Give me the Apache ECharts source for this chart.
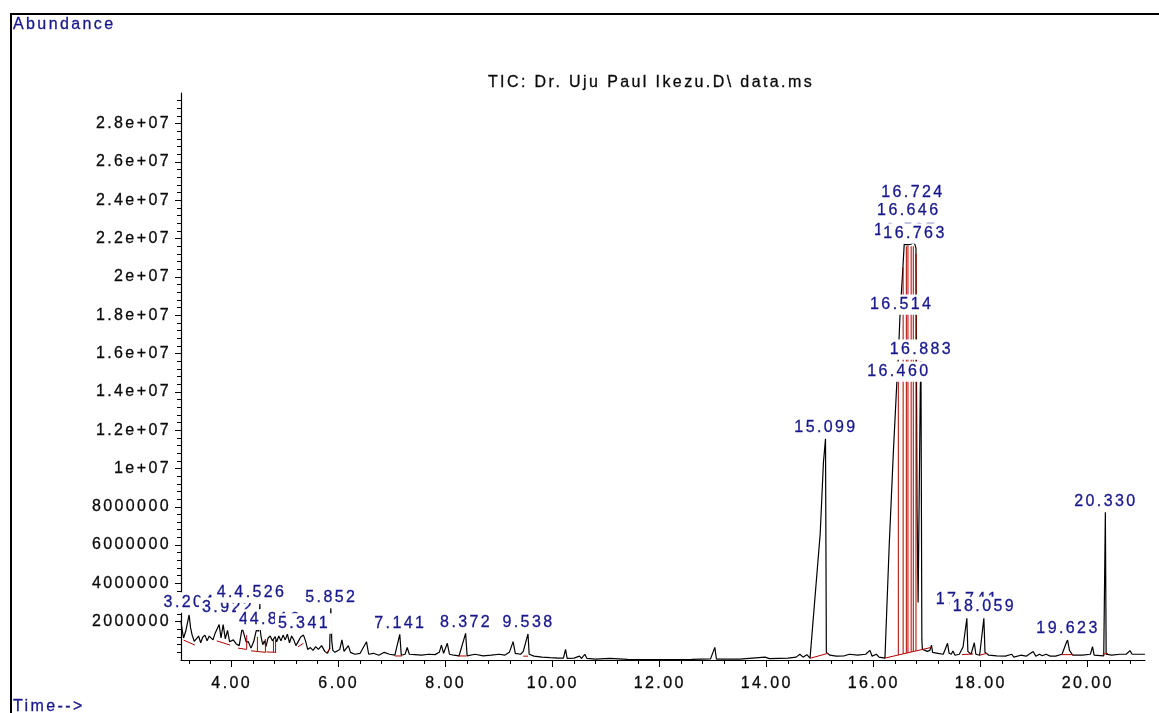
<!DOCTYPE html>
<html>
<head>
<meta charset="utf-8">
<script src="https://cdn.jsdelivr.net/npm/echarts@6/dist/echarts.min.js"></script>
<style>
  html, body { margin: 0; padding: 0; background: #fff; }
  #chart { width: 1159px; height: 713px; }
</style>
</head>
<body>
<div id="chart"></div>
<script>
// Total ion chromatogram: retention time (min) vs abundance.
const chromatogram = [
  [3.05, 2.05e6], [3.08, 1.45e6], [3.10, 1.15e6], [3.14, 1.5e6], [3.204, 2.35e6], [3.23, 1.7e6],
  [3.26, 1.3e6], [3.30, 0.98e6], [3.34, 1.1e6], [3.38, 1.25e6], [3.42, 0.9e6], [3.46, 1.2e6],
  [3.50, 1.3e6], [3.54, 1.0e6], [3.58, 1.25e6], [3.61, 1.22e6], [3.65, 1.05e6], [3.69, 1.4e6],
  [3.72, 1.3e6], [3.765, 1.85e6], [3.80, 1.15e6], [3.84, 1.85e6], [3.88, 1.1e6], [3.922, 1.55e6],
  [3.96, 0.95e6], [4.03, 1.05e6], [4.08, 0.85e6], [4.14, 0.75e6], [4.196, 1.68e6], [4.23, 1.65e6],
  [4.27, 0.95e6], [4.31, 0.96e6], [4.36, 0.62e6], [4.41, 0.95e6], [4.46, 1.55e6], [4.50, 1.5e6],
  [4.515, 1.55e6], [4.526, 2.92e6], [4.535, 1.5e6], [4.55, 1.2e6], [4.58, 0.8e6], [4.612, 1.0e6],
  [4.64, 0.7e6], [4.68, 1.15e6], [4.72, 1.25e6], [4.76, 1.0e6], [4.79, 1.1e6], [4.813, 1.22e6],
  [4.84, 0.95e6], [4.88, 1.25e6], [4.92, 1.0e6], [4.96, 1.3e6], [5.00, 1.05e6], [5.04, 1.35e6],
  [5.08, 0.9e6], [5.12, 1.25e6], [5.16, 1.05e6], [5.20, 0.75e6], [5.25, 1.0e6], [5.29, 1.2e6],
  [5.341, 1.3e6], [5.38, 1.0e6], [5.42, 0.55e6], [5.47, 0.65e6], [5.52, 0.5e6], [5.57, 0.7e6],
  [5.62, 0.55e6], [5.68, 0.75e6], [5.74, 0.45e6], [5.79, 0.35e6], [5.83, 0.6e6], [5.852, 2.7e6],
  [5.87, 1.0e6], [5.89, 0.5e6], [5.93, 0.4e6], [6.02, 0.55e6], [6.06, 1.05e6], [6.10, 0.45e6],
  [6.18, 0.75e6], [6.22, 0.4e6], [6.30, 0.3e6], [6.40, 0.35e6], [6.52, 0.95e6], [6.56, 0.3e6],
  [6.65, 0.35e6], [6.75, 0.25e6], [6.85, 0.4e6], [6.95, 0.3e6], [7.05, 0.25e6], [7.141, 1.34e6],
  [7.17, 0.25e6], [7.24, 0.3e6], [7.28, 0.65e6], [7.32, 0.3e6], [7.42, 0.28e6], [7.55, 0.25e6],
  [7.68, 0.3e6], [7.80, 0.28e6], [7.88, 0.4e6], [7.92, 0.78e6], [7.96, 0.35e6], [8.03, 0.87e6],
  [8.07, 0.3e6], [8.15, 0.25e6], [8.25, 0.22e6], [8.372, 1.39e6], [8.40, 0.22e6], [8.55, 0.3e6],
  [8.70, 0.22e6], [8.85, 0.25e6], [9.00, 0.3e6], [9.10, 0.25e6], [9.19, 0.4e6], [9.26, 0.96e6],
  [9.30, 0.35e6], [9.40, 0.3e6], [9.45, 0.45e6], [9.538, 1.36e6], [9.56, 0.3e6], [9.65, 0.2e6],
  [9.80, 0.15e6], [9.95, 0.12e6], [10.10, 0.1e6], [10.20, 0.1e6], [10.24, 0.56e6], [10.27, 0.08e6],
  [10.40, 0.1e6], [10.50, 0.2e6], [10.54, 0.08e6], [10.60, 0.3e6], [10.64, 0.08e6], [10.80, 0.05e6],
  [11.07, 0.08e6], [11.40, 0.03e6], [12.00, 0.02e6], [12.60, 0.03e6], [12.95, 0.06e6], [13.03, 0.66e6],
  [13.06, 0.05e6], [13.50, 0.05e6], [13.97, 0.15e6], [14.05, 0.07e6], [14.40, 0.1e6], [14.55, 0.15e6],
  [14.62, 0.3e6], [14.68, 0.15e6], [14.75, 0.28e6], [14.81, 0.1e6], [15.00, 6.6e6], [15.06, 10.3e6],
  [15.099, 11.55e6], [15.115, 0.4e6], [15.15, 0.45e6], [15.18, 0.25e6], [15.30, 0.2e6], [15.45, 0.22e6],
  [15.55, 0.3e6], [15.70, 0.25e6], [15.85, 0.3e6], [15.93, 0.5e6], [15.97, 0.2e6], [16.05, 0.3e6],
  [16.10, 0.15e6], [16.21, 0.1e6], [16.29, 6.0e6], [16.37, 11.0e6], [16.44, 14.9e6], [16.460, 15.8e6],
  [16.49, 17.9e6], [16.514, 19.0e6], [16.55, 20.7e6], [16.57, 21.7e6], [16.587, 21.72e6], [16.62, 21.68e6],
  [16.646, 21.75e6], [16.68, 21.7e6], [16.724, 21.75e6], [16.745, 21.7e6], [16.763, 21.75e6], [16.79, 21.5e6],
  [16.81, 8.0e6], [16.83, 3.0e6], [16.87, 14.0e6], [16.883, 15.6e6], [16.90, 1.05e6], [16.91, 0.55e6],
  [16.96, 0.5e6], [17.00, 0.45e6], [17.05, 0.5e6], [17.08, 0.78e6], [17.10, 0.4e6], [17.20, 0.35e6],
  [17.30, 0.3e6], [17.38, 0.87e6], [17.41, 0.35e6], [17.45, 0.3e6], [17.48, 0.47e6], [17.52, 0.25e6],
  [17.60, 0.3e6], [17.67, 0.68e6], [17.741, 2.18e6], [17.76, 0.45e6], [17.82, 0.3e6], [17.88, 0.9e6],
  [17.91, 0.3e6], [17.98, 0.25e6], [18.059, 2.18e6], [18.08, 0.4e6], [18.15, 0.25e6], [18.30, 0.22e6],
  [18.46, 0.2e6], [18.58, 0.3e6], [18.62, 0.15e6], [18.75, 0.25e6], [18.85, 0.2e6], [18.98, 0.44e6],
  [19.03, 0.2e6], [19.10, 0.3e6], [19.15, 0.22e6], [19.22, 0.3e6], [19.30, 0.2e6], [19.40, 0.2e6],
  [19.52, 0.3e6], [19.60, 0.9e6], [19.623, 1.04e6], [19.66, 0.5e6], [19.72, 0.25e6], [19.90, 0.25e6],
  [20.05, 0.3e6], [20.09, 0.7e6], [20.12, 0.25e6], [20.30, 0.22e6], [20.330, 7.71e6], [20.345, 0.3e6],
  [20.45, 0.25e6], [20.60, 0.3e6], [20.72, 0.3e6], [20.79, 0.49e6], [20.83, 0.3e6], [21.07, 0.3e6]
];

// Integrated peaks: retention time labels and the level each label sits on.
const peakTimes = [3.204, 3.922, 4.196, 4.526, 4.612, 4.813, 5.341, 5.852, 7.141, 8.372, 9.538,
  15.099, 16.460, 16.514, 16.587, 16.646, 16.724, 16.763, 16.883, 17.741, 18.059, 19.623, 20.330];
const labelLevels = [2.42e6, 2.15e6, 2.94e6, 2.94e6, 1.53e6, 1.53e6, 1.32e6, 2.68e6, 1.34e6, 1.39e6, 1.36e6,
  11.55e6, 14.47e6, 17.97e6, 21.83e6, 22.88e6, 23.82e6, 21.68e6, 15.62e6, 2.55e6, 2.18e6, 1.04e6, 7.71e6];

// Integration baselines: [startTime, startLevel, endTime, endLevel]
const intBaselines = [
  [3.10, 1.04e6, 3.31, 0.78e6], [3.72, 1.0e6, 3.97, 0.78e6], [4.12, 0.62e6, 4.28, 0.55e6],
  [4.36, 0.48e6, 4.63, 0.40e6], [4.65, 0.42e6, 4.83, 0.40e6], [5.24, 0.69e6, 5.34, 0.87e6],
  [5.77, 0.35e6, 5.84, 0.6e6], [7.05, 0.21e6, 7.18, 0.21e6], [8.23, 0.21e6, 8.39, 0.21e6],
  [9.45, 0.2e6, 9.54, 0.2e6], [14.81, 0.09e6, 15.15, 0.35e6], [16.21, 0.1e6, 17.08, 0.66e6],
  [17.65, 0.28e6, 17.86, 0.32e6], [17.98, 0.25e6, 18.12, 0.35e6], [19.51, 0.28e6, 19.73, 0.28e6],
  [20.28, 0.3e6, 20.38, 0.35e6]
];

// Peak boundary drop lines: [time, low, high]
const dropLines = [
  [4.28, 0.57e6, 1.3e6], [4.48, 0.45e6, 1.2e6], [4.63, 0.40e6, 1.1e6], [4.78, 0.42e6, 1.05e6],
  [4.82, 0.40e6, 1.05e6],
  [16.46, 0.26e6, 15.6e6], [16.55, 0.32e6, 20.5e6], [16.61, 0.36e6, 21.6e6], [16.64, 0.38e6, 21.65e6],
  [16.70, 0.42e6, 21.6e6], [16.74, 0.44e6, 21.6e6], [16.79, 0.47e6, 21.2e6]
];

// Axis ticks and labels
const xLabelValues = [4, 6, 8, 10, 12, 14, 16, 18, 20];
const yLabelValues = [2e6, 4e6, 6e6, 8e6, 1e7, 1.2e7, 1.4e7, 1.6e7, 1.8e7, 2e7, 2.2e7, 2.4e7, 2.6e7, 2.8e7];
const X_MIN = 3.052, X_MAX = 21.071, Y_MAX = 2.96e7;

const xMinorTicks = [];
for (let i = 8; i <= 52; i++) xMinorTicks.push(+(i * 0.4).toFixed(1));
const yMinorTicks = [];
for (let i = 1; i <= 73; i++) yMinorTicks.push(i * 4e5);

const FONT = '"Liberation Sans", Arial, sans-serif';
const FONT_SIZE = 16;
const NAVY = '#18188c';
const INK = '#0a0a0a';
const RED = '#b00000';
const TEXT_SPACING = '2.4px';

// Wide-tracked lettering for every canvas text draw and measurement.
(function () {
  const proto = CanvasRenderingContext2D.prototype;
  if (!('letterSpacing' in proto)) return;
  ['fillText', 'strokeText', 'measureText'].forEach(function (name) {
    const orig = proto[name];
    proto[name] = function () { this.letterSpacing = TEXT_SPACING; return orig.apply(this, arguments); };
  });
})();

function yFormat(v) {
  if (v >= 1e7) return String(+(v / 1e7).toFixed(2)) + 'e+07';
  return String(v);
}

const chart = echarts.init(document.getElementById('chart'), null, { renderer: 'canvas' });

const axisText = { color: INK, fontSize: FONT_SIZE, fontFamily: FONT, textBorderColor: INK, textBorderWidth: 0.3 };

function plainText(text, x, y, color, align) {
  return {
    type: 'text', silent: true, x: x, y: y,
    style: { text: text, fill: color, stroke: color, lineWidth: 0.3, fontSize: FONT_SIZE, fontFamily: FONT,
             textAlign: align, textVerticalAlign: 'middle' }
  };
}

chart.setOption({
  animation: false,
  backgroundColor: '#fff',
  grid: { left: 181, right: 14, top: 93, bottom: 53 },
  xAxis: [
    {
      type: 'value', min: X_MIN, max: X_MAX,
      axisLine: { show: true, lineStyle: { color: '#000', width: 1.2 } },
      axisTick: { show: true, customValues: xLabelValues, length: 7, lineStyle: { color: '#000' } },
      axisLabel: Object.assign({ customValues: xLabelValues, margin: 14, formatter: v => v.toFixed(2) }, axisText),
      splitLine: { show: false }
    },
    {
      type: 'value', min: X_MIN, max: X_MAX, position: 'bottom',
      axisLine: { show: false },
      axisTick: { show: true, customValues: xMinorTicks, length: 4, lineStyle: { color: '#000' } },
      axisLabel: { show: false },
      splitLine: { show: false }
    }
  ],
  yAxis: [
    {
      type: 'value', min: 0, max: Y_MAX,
      axisLine: { show: true, lineStyle: { color: '#000', width: 1.2 } },
      axisTick: { show: true, customValues: yLabelValues, length: 6, lineStyle: { color: '#000' } },
      axisLabel: Object.assign({ customValues: yLabelValues, margin: 10, formatter: yFormat }, axisText),
      splitLine: { show: false }
    },
    {
      type: 'value', min: 0, max: Y_MAX, position: 'left',
      axisLine: { show: false },
      axisTick: { show: true, customValues: yMinorTicks, length: 4, lineStyle: { color: '#000' } },
      axisLabel: { show: false },
      splitLine: { show: false }
    }
  ],
  graphic: [
    { type: 'rect', silent: true, shape: { x: 11, y: 14, width: 1200, height: 760 },
      style: { fill: 'none', stroke: '#000', lineWidth: 2 } },
    plainText('Abundance', 13, 25, NAVY, 'left'),
    plainText('Time-->', 13, 707, NAVY, 'left'),
    plainText('TIC: Dr. Uju Paul Ikezu.D\\ data.ms', 651, 83, INK, 'center')
  ],
  series: [
    {
      name: 'TIC', type: 'line', xAxisIndex: 0, yAxisIndex: 0,
      data: chromatogram, showSymbol: false, symbol: 'none',
      lineStyle: { color: '#000', width: 1.2 }, z: 2, silent: true
    },
    {
      name: 'baselines', type: 'custom', xAxisIndex: 0, yAxisIndex: 0, z: 3, silent: true,
      data: intBaselines,
      encode: { x: [0, 2], y: [1, 3] },
      renderItem: function (params, api) {
        const p1 = api.coord([api.value(0), api.value(1)]);
        const p2 = api.coord([api.value(2), api.value(3)]);
        return { type: 'line', shape: { x1: p1[0], y1: p1[1], x2: p2[0], y2: p2[1] },
                 style: { stroke: RED, lineWidth: 1 } };
      }
    },
    {
      name: 'drops', type: 'custom', xAxisIndex: 0, yAxisIndex: 0, z: 3, silent: true,
      data: dropLines,
      encode: { x: 0, y: [1, 2] },
      renderItem: function (params, api) {
        const lo = api.coord([api.value(0), api.value(1)]);
        const hi = api.coord([api.value(0), api.value(2)]);
        return { type: 'line', shape: { x1: lo[0], y1: lo[1], x2: hi[0], y2: hi[1] },
                 style: { stroke: RED, lineWidth: 1 } };
      }
    },
    {
      name: 'peaks', type: 'scatter', xAxisIndex: 0, yAxisIndex: 0, z: 10, silent: true,
      symbolSize: 0,
      itemStyle: { opacity: 1 },
      data: peakTimes.map((t, i) => [t, labelLevels[i]]),
      label: {
        show: true, position: 'top', distance: 1, opacity: 1,
        formatter: p => p.value[0].toFixed(3),
        color: NAVY, fontSize: FONT_SIZE, fontFamily: FONT,
        textBorderColor: NAVY, textBorderWidth: 0.3,
        backgroundColor: '#fff', padding: [1, 2, 1, 3]
      }
    }
  ]
});
</script>
</body>
</html>
